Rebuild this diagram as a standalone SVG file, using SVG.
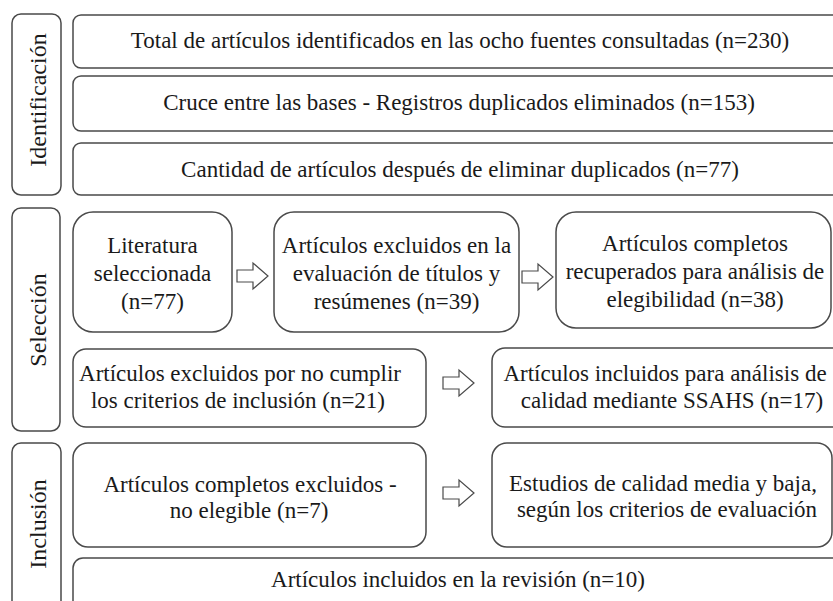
<svg xmlns="http://www.w3.org/2000/svg" width="833" height="601" viewBox="0 0 833 601">
<style>
.b{fill:#fff;stroke:#4a4a4a;stroke-width:1.5}
text{font-family:'Liberation Serif','Times New Roman',serif;fill:#1a1a1a;text-anchor:middle}
.t{font-size:23px}
.s{font-size:24px}
.a{fill:#fff;stroke:#4a4a4a;stroke-width:1.2;stroke-linejoin:miter}
</style>
<defs>
<path id="arr" d="M0,-6 H16 V-13 L31,0 L16,13 V6 H0 Z"/>
</defs>
<rect width="833" height="601" fill="#fff"/>

<g id="lbl-identificacion">
<rect class="b" x="12" y="14" width="49" height="181" rx="9"/>
<text class="s" transform="translate(46,100) rotate(-90)">Identificación</text>
</g>
<g id="lbl-seleccion">
<rect class="b" x="12" y="208" width="48" height="223" rx="9"/>
<text class="s" transform="translate(46,320) rotate(-90)">Selección</text>
</g>
<g id="lbl-inclusion">
<rect class="b" x="12" y="443" width="49" height="175" rx="9"/>
<text class="s" transform="translate(46,524) rotate(-90)">Inclusión</text>
</g>

<g id="n-total">
<rect class="b" x="73" y="15" width="780" height="53" rx="8"/>
<text class="t" x="460" y="48">Total de artículos identificados en las ocho fuentes consultadas (n=230)</text>
</g>
<g id="n-cruce">
<rect class="b" x="73" y="76" width="780" height="55" rx="8"/>
<text class="t" x="459" y="110">Cruce entre las bases - Registros duplicados eliminados (n=153)</text>
</g>
<g id="n-cantidad">
<rect class="b" x="73" y="143" width="780" height="52" rx="8"/>
<text class="t" x="460" y="177">Cantidad de artículos después de eliminar duplicados (n=77)</text>
</g>

<g id="n-literatura">
<rect class="b" x="73" y="212" width="159" height="120" rx="20"/>
<text class="t" x="152.5" y="253">Literatura</text>
<text class="t" x="152.5" y="281">seleccionada</text>
<text class="t" x="152.5" y="309">(n=77)</text>
</g>
<g id="n-excluidos-titulos">
<rect class="b" x="274" y="212" width="245" height="120" rx="20"/>
<text class="t" x="396.5" y="253">Artículos excluidos en la</text>
<text class="t" x="396.5" y="281">evaluación de títulos y</text>
<text class="t" x="396.5" y="309">resúmenes (n=39)</text>
</g>
<g id="n-completos">
<rect class="b" x="556" y="212" width="275" height="116" rx="20"/>
<text class="t" x="695" y="251">Artículos completos</text>
<text class="t" x="695" y="279">recuperados para análisis de</text>
<text class="t" x="695" y="307">elegibilidad (n=38)</text>
</g>
<g id="n-excluidos-criterios">
<rect class="b" x="73" y="349" width="353" height="78" rx="13"/>
<text class="t" x="240" y="381">Artículos excluidos por no cumplir</text>
<text class="t" x="238" y="408">los criterios de inclusión (n=21)</text>
</g>
<g id="n-incluidos-calidad">
<rect class="b" x="492" y="348" width="360" height="79" rx="13"/>
<text class="t" x="665" y="381">Artículos incluidos para análisis de</text>
<text class="t" x="672" y="408">calidad mediante SSAHS (n=17)</text>
</g>
<g id="n-completos-excluidos">
<rect class="b" x="73" y="443" width="353" height="104" rx="15"/>
<text class="t" x="250" y="492">Artículos completos excluidos -</text>
<text class="t" x="249" y="518">no elegible (n=7)</text>
</g>
<g id="n-estudios">
<rect class="b" x="492" y="443" width="340" height="104" rx="15"/>
<text class="t" x="663" y="491">Estudios de calidad media y baja,</text>
<text class="t" x="667" y="517">según los criterios de evaluación</text>
</g>
<g id="n-incluidos-revision">
<rect class="b" x="73" y="558" width="780" height="60" rx="10"/>
<text class="t" x="458" y="587">Artículos incluidos en la revisión (n=10)</text>
</g>

<g id="connectors">
<use href="#arr" class="a" x="237" y="276"/>
<use href="#arr" class="a" x="522" y="277"/>
<use href="#arr" class="a" x="443" y="383"/>
<use href="#arr" class="a" x="443" y="493"/>
</g>
</svg>
